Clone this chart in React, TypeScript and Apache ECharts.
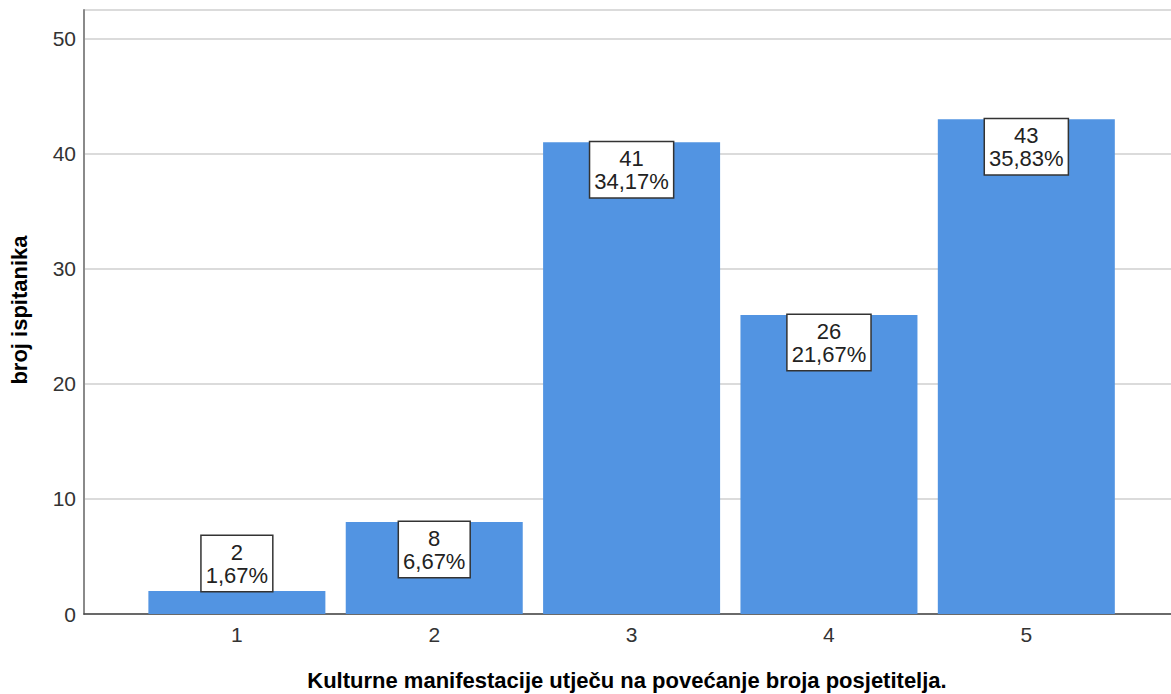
import React, { useEffect, useRef } from "react";
import * as echarts from "echarts";

const categories = ["1", "2", "3", "4", "5"];
const counts = [2, 8, 41, 26, 43];
const percents = ["1,67%", "6,67%", "34,17%", "21,67%", "35,83%"];
const yMin = 0;
const yMax = 52.5;
const yInterval = 10;
const xTitle = "Kulturne manifestacije utječu na povećanje broja posjetitelja.";
const yTitle = "broj ispitanika";

const FONT = "'Liberation Sans', Arial, sans-serif";

export default function App() {
  const ref = useRef<HTMLDivElement>(null);
  useEffect(() => {
    if (!ref.current) return;
    const chart = echarts.init(ref.current, undefined, { renderer: "svg" });
    const option = {
      animation: false,
      backgroundColor: "#ffffff",
      textStyle: { fontFamily: FONT },
      grid: [
        { left: 138.2, right: 46, top: 10, bottom: 80 },
        { left: 84, right: 0, top: 10, bottom: 80 },
      ],
      xAxis: [
        {
          type: "category",
          gridIndex: 0,
          data: categories,
          axisLine: { show: false },
          axisTick: { show: false },
          splitLine: { show: false },
          axisLabel: { color: "#333333", fontSize: 21, fontFamily: FONT, margin: 10 },
        },
        {
          type: "value",
          gridIndex: 1,
          min: 0,
          max: 1,
          axisLine: { show: true, lineStyle: { color: "#444444", width: 1.5 } },
          axisTick: { show: false },
          axisLabel: { show: false },
          splitLine: { show: false },
        },
      ],
      yAxis: [
        {
          type: "value",
          gridIndex: 0,
          min: yMin,
          max: yMax,
          interval: yInterval,
          show: false,
          splitLine: { show: false },
        },
        {
          type: "value",
          gridIndex: 1,
          min: yMin,
          max: yMax,
          interval: yInterval,
          axisLine: { show: true, lineStyle: { color: "#8a8a8a", width: 2 } },
          axisTick: { show: false },
          axisLabel: {
            color: "#333333",
            fontSize: 21,
            fontFamily: FONT,
            margin: 8,
            showMaxLabel: false,
          },
          splitLine: { show: true, lineStyle: { color: "#cfcfcf", width: 1.5 } },
        },
      ],
      series: [
        {
          type: "bar",
          xAxisIndex: 0,
          yAxisIndex: 0,
          barWidth: 177,
          itemStyle: { color: "#5294e2" },
          data: counts.map((v) => ({
            value: v,
            label: { position: v < 5 ? "top" : "insideTop" },
          })),
          label: {
            show: true,
            distance: 0,
            formatter: (p: any) => `${p.value}\n${percents[p.dataIndex]}`,
            color: "#222222",
            fontSize: 22,
            fontFamily: FONT,
            lineHeight: 23,
            align: "center",
            backgroundColor: "#ffffff",
            borderColor: "#333333",
            borderWidth: 1.5,
            padding: [5, 4, 4, 4],
          },
        },
      ],
      graphic: [
        {
          type: "text",
          x: 627,
          y: 680,
          style: {
            text: xTitle,
            fontSize: 22,
            fontWeight: "bold",
            fontFamily: FONT,
            fill: "#000000",
            align: "center",
            verticalAlign: "middle",
          },
        },
        {
          type: "text",
          x: 19,
          y: 310,
          rotation: Math.PI / 2,
          style: {
            text: yTitle,
            fontSize: 22,
            fontWeight: "bold",
            fontFamily: FONT,
            fill: "#000000",
            align: "center",
            verticalAlign: "middle",
          },
        },
      ],
    };
    chart.setOption(option as any);
    return () => chart.dispose();
  }, []);
  return (
    <div
      ref={ref}
      style={{ position: "absolute", left: 0, top: 0, width: 1171, height: 694 }}
    />
  );
}
